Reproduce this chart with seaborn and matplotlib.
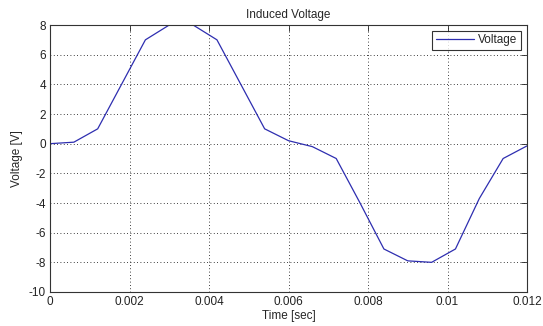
import pandas as pd
import matplotlib
matplotlib.use('Agg')
import matplotlib.pyplot as plt
import seaborn as sns

time_s = [0.0, 0.0006, 0.0012, 0.0018, 0.0024, 0.0030, 0.0036, 0.0042, 0.0048, 0.0054,
          0.0060, 0.0066, 0.0072, 0.0078, 0.0084, 0.0090, 0.0096, 0.0102, 0.0108, 0.0114, 0.0120]
voltage = [0.0, 0.1, 1.0, 4.0, 7.0, 8.0, 8.0, 7.0, 4.0, 1.0,
           0.2, -0.2, -1.0, -4.0, -7.1, -7.9, -8.0, -7.1, -3.7, -1.0, -0.15]
xticks = [0, 0.002, 0.004, 0.006, 0.008, 0.01, 0.012]
xtick_labels = ['0', '0.002', '0.004', '0.006', '0.008', '0.01', '0.012']
yticks = [-10, -8, -6, -4, -2, 0, 2, 4, 6, 8]

sns.set_style('white')
plt.rcParams['font.family'] = ['Liberation Sans', 'DejaVu Sans']
plt.rcParams['font.size'] = 8.5
plt.rcParams['axes.unicode_minus'] = False

df = pd.DataFrame({'Time': time_s, 'Voltage': voltage})

fig = plt.figure(figsize=(5.43, 3.26), dpi=100)
ax = fig.add_axes([50/543, 1-292/326, 477/543, 267/326])
sns.lineplot(data=df, x='Time', y='Voltage', ax=ax, color='#2e2eb0', lw=0.9, label='Voltage')

ax.set_xlim(0, 0.012)
ax.set_ylim(-10, 8)
ax.set_xticks(xticks, xtick_labels)
ax.set_yticks(yticks)
ax.grid(True, color='black', linestyle=(0, (1, 3)), linewidth=0.6)
ax.tick_params(direction='in', length=4, width=0.6, top=True, right=True, labelsize=8.5, pad=3, colors='#222222')
for s in ax.spines.values():
    s.set_color('#333333')
    s.set_linewidth(0.8)

ax.set_title('Induced Voltage', fontsize=8.5, pad=5)
ax.set_xlabel('Time [sec]', fontsize=8.5, labelpad=1)
ax.set_ylabel('Voltage [V]', fontsize=8.5, labelpad=4)

leg = ax.legend(loc='upper right', fontsize=8.5, frameon=True, fancybox=False,
                borderaxespad=0.5, handlelength=3.2, handletextpad=0.4, borderpad=0.3)
leg.get_frame().set_edgecolor('black')
leg.get_frame().set_linewidth(0.8)

plt.savefig('out.png', dpi=100)
